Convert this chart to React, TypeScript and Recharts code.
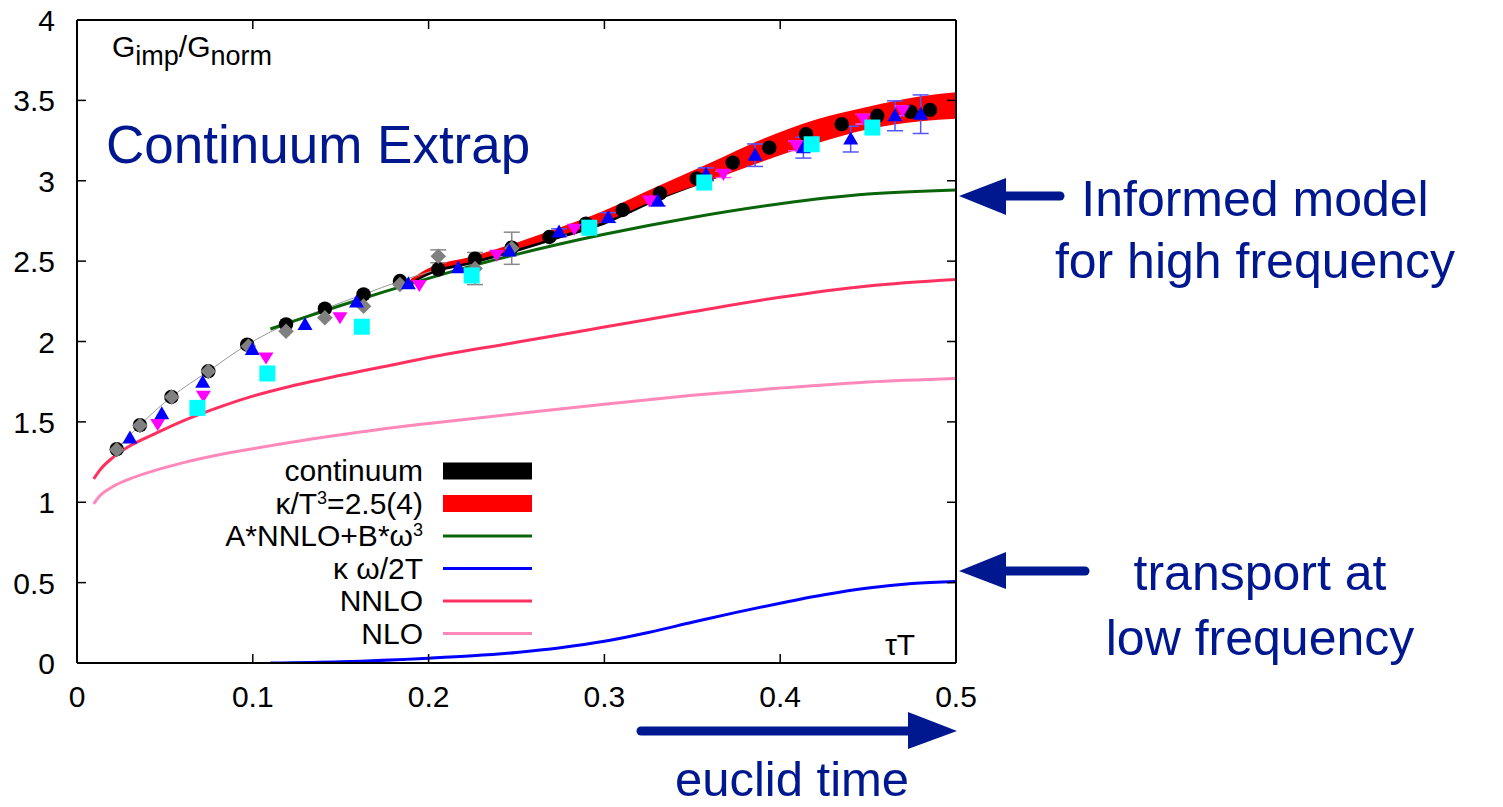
import React from 'react';
import { ComposedChart, XAxis, YAxis, Line, Area, Scatter, ErrorBar } from 'recharts';

const FONT = '"Liberation Sans", Arial, Helvetica, sans-serif';
const NAVY = '#00188f';

// ---- axis ticks ----
const xTicks = [0, 0.1, 0.2, 0.3, 0.4, 0.5];
const xTickLabels = ['0', '0.1', '0.2', '0.3', '0.4', '0.5'];
const yTicks = [0, 0.5, 1, 1.5, 2, 2.5, 3, 3.5, 4];
const yTickLabels = ['0', '0.5', '1', '1.5', '2', '2.5', '3', '3.5', '4'];

// ---- continuum data (black circles) ----
const contX = [0.0226, 0.0358, 0.0537, 0.0747, 0.0968, 0.1189, 0.141, 0.163, 0.1837, 0.2055, 0.2264, 0.2473, 0.2687, 0.2895, 0.3104, 0.3316, 0.3525, 0.373, 0.3938, 0.4147, 0.435, 0.4552, 0.4742, 0.4852];
const contY = [1.33, 1.48, 1.655, 1.815, 1.98, 2.106, 2.204, 2.293, 2.376, 2.449, 2.515, 2.584, 2.65, 2.733, 2.818, 2.922, 3.014, 3.113, 3.206, 3.29, 3.352, 3.404, 3.429, 3.441];

// ---- lattice data (gray diamonds) ----
const grayX = [0.0226, 0.0358, 0.0539, 0.0747, 0.0975, 0.1189, 0.141, 0.163, 0.1837, 0.2055, 0.2264, 0.2473];
const grayY = [1.327, 1.477, 1.655, 1.815, 1.97, 2.064, 2.148, 2.22, 2.355, 2.53, 2.454, 2.58];
const grayE = [0, 0, 0, 0, 0, 0, 0, 0, 0, 0.04, 0.1, 0.1];

// ---- lattice data (blue up-triangles) ----
const blueX = [0.0301, 0.0482, 0.0715, 0.0997, 0.1297, 0.159, 0.1885, 0.2169, 0.2459, 0.2742, 0.3022, 0.3303, 0.3578, 0.3857, 0.4132, 0.4401, 0.4653, 0.4799];
const blueY = [1.4, 1.551, 1.746, 1.95, 2.106, 2.245, 2.36, 2.459, 2.563, 2.681, 2.771, 2.874, 3.04, 3.159, 3.206, 3.259, 3.404, 3.414];
const blueE = [0, 0, 0, 0, 0, 0, 0, 0, 0, 0.02, 0.03, 0.03, 0.04, 0.07, 0.065, 0.08, 0.093, 0.12];

// ---- lattice data (magenta down-triangles) ----
const magX = [0.0459, 0.0719, 0.1075, 0.1496, 0.1947, 0.2387, 0.2829, 0.3256, 0.3677, 0.409, 0.4473, 0.4697];
const magY = [1.483, 1.659, 1.898, 2.147, 2.349, 2.536, 2.698, 2.874, 3.04, 3.217, 3.383, 3.435];
const magE = [0, 0, 0, 0, 0, 0, 0, 0, 0.02, 0.03, 0.03, 0.03];

// ---- lattice data (cyan squares) ----
const cyanX = [0.0685, 0.1083, 0.162, 0.2245, 0.2914, 0.3568, 0.4179, 0.4524];
const cyanY = [1.587, 1.801, 2.092, 2.411, 2.708, 2.989, 3.227, 3.331];

// ---- kappa band (red) and continuum band (black) ----
const bandX = [0.19, 0.2, 0.225, 0.25, 0.275, 0.3, 0.33, 0.36, 0.39, 0.42, 0.45, 0.48, 0.5];
const bandLo = [2.37, 2.43, 2.5, 2.575, 2.66, 2.745, 2.885, 3.0, 3.12, 3.23, 3.32, 3.37, 3.385];
const bandHi = [2.39, 2.455, 2.53, 2.615, 2.71, 2.815, 2.965, 3.11, 3.26, 3.38, 3.46, 3.525, 3.55];
const contBandLo = [2.355, 2.412, 2.482, 2.557, 2.642, 2.727, 2.875, 3.0, 3.13, 3.25, 3.34, 3.39, 3.4];
const contBandHi = [2.38, 2.44, 2.515, 2.595, 2.685, 2.78, 2.93, 3.06, 3.19, 3.3, 3.39, 3.44, 3.45];

// ---- model curves ----
const greenX = [0.11, 0.13, 0.15, 0.175, 0.2, 0.229, 0.25, 0.3, 0.35, 0.4, 0.45, 0.5];
const greenY = [2.078, 2.152, 2.224, 2.31, 2.393, 2.483, 2.542, 2.667, 2.772, 2.857, 2.917, 2.942];

const kwX = [0.11, 0.15, 0.2, 0.225, 0.25, 0.275, 0.3, 0.325, 0.35, 0.375, 0.4, 0.425, 0.45, 0.475, 0.5];
const kwY = [0.0, 0.008, 0.03, 0.045, 0.066, 0.095, 0.135, 0.19, 0.253, 0.315, 0.372, 0.424, 0.466, 0.494, 0.507];

const pertX = [0.0095, 0.013, 0.02, 0.03, 0.045, 0.06, 0.083, 0.1, 0.121, 0.15, 0.184, 0.2, 0.25, 0.3, 0.35, 0.4, 0.45, 0.5];
const nnloY = [1.145, 1.2, 1.275, 1.35, 1.43, 1.505, 1.6, 1.66, 1.72, 1.79, 1.865, 1.9, 1.995, 2.09, 2.185, 2.275, 2.345, 2.385];
const nloY = [0.99, 1.04, 1.095, 1.145, 1.2, 1.245, 1.3, 1.333, 1.372, 1.42, 1.47, 1.49, 1.55, 1.61, 1.665, 1.71, 1.748, 1.77];

// ---- build tables ----
const pts = (xs: number[], ys: number[], es?: number[]) =>
  xs.map((x, i) => ({ x, y: ys[i], e: es ? es[i] : 0 }));
const band = (xs: number[], lo: number[], hi: number[]) =>
  xs.map((x, i) => ({ x, band: [lo[i], hi[i]] }));

const contData = pts(contX, contY);
const thinData = pts(contX.slice(0, 10), contY.slice(0, 10));
const grayData = pts(grayX, grayY, grayE);
const blueData = pts(blueX, blueY, blueE);
const magData = pts(magX, magY, magE);
const cyanData = pts(cyanX, cyanY);
const redBand = band(bandX, bandLo, bandHi);
const blackBand = band(bandX, contBandLo, contBandHi);
const greenData = pts(greenX, greenY);
const kwData = pts(kwX, kwY);
const nnloData = pts(pertX, nnloY);
const nloData = pts(pertX, nloY);

// ---- marker shapes ----
const circleShape = (p: any) => <circle cx={p.cx} cy={p.cy} r={7.2} fill="#000" />;
const diamondShape = (p: any) => {
  const r = 7.8;
  return <polygon points={`${p.cx},${p.cy - r} ${p.cx + r},${p.cy} ${p.cx},${p.cy + r} ${p.cx - r},${p.cy}`} fill="#808080" />;
};
const triUpShape = (p: any) => (
  <polygon points={`${p.cx},${p.cy - 7.5} ${p.cx + 7.5},${p.cy + 5.5} ${p.cx - 7.5},${p.cy + 5.5}`} fill="#0000ff" />
);
const triDownShape = (p: any) => (
  <polygon points={`${p.cx},${p.cy + 6.5} ${p.cx + 7.5},${p.cy - 5.5} ${p.cx - 7.5},${p.cy - 5.5}`} fill="#ff00ff" />
);
const squareShape = (p: any) => <rect x={p.cx - 8} y={p.cy - 8} width={16} height={16} fill="#00ffff" />;

// ---- ticks (inward) ----
const LeftTick = (p: any) => {
  const i = yTicks.indexOf(p.payload.value);
  return (
    <g>
      <line x1={p.x + 22} x2={p.x + 31} y1={p.y} y2={p.y} stroke="#000" strokeWidth={1.5} />
      <text x={p.x} y={p.y + 11} textAnchor="end" fontSize={30} fontFamily={FONT} fill="#000">{yTickLabels[i]}</text>
    </g>
  );
};
const BottomTick = (p: any) => {
  const i = xTicks.indexOf(p.payload.value);
  return (
    <g>
      <line x1={p.x} x2={p.x} y1={p.y - 44} y2={p.y - 53} stroke="#000" strokeWidth={1.5} />
      <text x={p.x} y={p.y} textAnchor="middle" fontSize={30} fontFamily={FONT} fill="#000">{xTickLabels[i]}</text>
    </g>
  );
};
const TopTick = (p: any) => <line x1={p.x} x2={p.x} y1={p.y} y2={p.y + 9} stroke="#000" strokeWidth={1.5} />;
const RightTick = (p: any) => <line x1={p.x - 9} x2={p.x} y1={p.y} y2={p.y} stroke="#000" strokeWidth={1.5} />;

const axisLine = { stroke: '#000', strokeWidth: 2 };

const legendRows = [
  { kind: 'box', color: '#000000' },
  { kind: 'box', color: '#ff0000' },
  { kind: 'line', color: '#0a640a' },
  { kind: 'line', color: '#0000ff' },
  { kind: 'line', color: '#ff3060' },
  { kind: 'line', color: '#ff88bb' },
];

const legendText = (i: number) => {
  switch (i) {
    case 0: return <>continuum</>;
    case 1: return <>κ/T<tspan dy={-10} fontSize={18}>3</tspan><tspan dy={10}>=2.5(4)</tspan></>;
    case 2: return <>A*NNLO+B*ω<tspan dy={-10} fontSize={18}>3</tspan></>;
    case 3: return <>κ ω/2T</>;
    case 4: return <>NNLO</>;
    default: return <>NLO</>;
  }
};

const Overlay = () => (
  <svg width={1503} height={807} style={{ position: 'absolute', left: 0, top: 0, pointerEvents: 'none' }}>
    <text x={112} y={57} fontSize={30} fontFamily={FONT} fill="#000">
      G<tspan dy={8} fontSize={27}>imp</tspan><tspan dy={-8}>/G</tspan><tspan dy={8} fontSize={27}>norm</tspan>
    </text>
    <text x={106} y={163} fontSize={53} fontFamily={FONT} fill={NAVY}>Continuum Extrap</text>
    <text x={885} y={655} fontSize={30} fontFamily={FONT} fill="#000">τT</text>
    {legendRows.map((r, i) => {
      const cy = 471 + i * 32.5;
      return (
        <g key={i}>
          <text x={423} y={cy + 10} textAnchor="end" fontSize={30} fontFamily={FONT} fill="#000">{legendText(i)}</text>
          {r.kind === 'box'
            ? <rect x={443} y={cy - 8.5} width={89} height={17} fill={r.color} />
            : <line x1={443} x2={532} y1={cy} y2={cy} stroke={r.color} strokeWidth={3} />}
        </g>
      );
    })}
    {/* arrows */}
    <line x1={1000} x2={1060} y1={196} y2={196} stroke={NAVY} strokeWidth={9} strokeLinecap="round" />
    <polygon points="959,196 1006,178 1006,215" fill={NAVY} />
    <line x1={1000} x2={1085} y1={571} y2={571} stroke={NAVY} strokeWidth={9} strokeLinecap="round" />
    <polygon points="959,571 1006,552 1006,589" fill={NAVY} />
    <line x1={641} x2={912} y1={731} y2={731} stroke={NAVY} strokeWidth={9} strokeLinecap="round" />
    <polygon points="957,731 908,712 908,749" fill={NAVY} />
    <text x={1255} y={216} textAnchor="middle" fontSize={50} fontFamily={FONT} fill={NAVY}>Informed model</text>
    <text x={1255} y={278} textAnchor="middle" fontSize={50} fontFamily={FONT} fill={NAVY}>for high frequency</text>
    <text x={1260} y={590} textAnchor="middle" fontSize={50} fontFamily={FONT} fill={NAVY}>transport at</text>
    <text x={1260} y={655} textAnchor="middle" fontSize={50} fontFamily={FONT} fill={NAVY}>low frequency</text>
    <text x={792} y={796} textAnchor="middle" fontSize={49} fontFamily={FONT} fill={NAVY}>euclid time</text>
  </svg>
);

export default function App() {
  return (
    <div style={{ position: 'absolute', left: 0, top: 0, width: 1503, height: 807, background: '#fff' }}>
      <ComposedChart width={1503} height={807} margin={{ top: 19, right: 546, bottom: 84, left: 0 }}>
        <XAxis xAxisId="b" dataKey="x" type="number" domain={[0, 0.5]} ticks={xTicks} interval={0}
          orientation="bottom" height={60} tickSize={0} tickMargin={44} tickLine={false}
          axisLine={axisLine} tick={BottomTick} allowDataOverflow />
        <XAxis xAxisId="t" dataKey="x" type="number" domain={[0, 0.5]} ticks={xTicks} interval={0}
          orientation="top" height={1} tickSize={0} tickMargin={0} tickLine={false}
          axisLine={axisLine} tick={TopTick} allowDataOverflow />
        <YAxis yAxisId="l" dataKey="y" type="number" domain={[0, 4]} ticks={yTicks} interval={0}
          orientation="left" width={77} tickSize={0} tickMargin={22} tickLine={false}
          axisLine={axisLine} tick={LeftTick} allowDataOverflow />
        <YAxis yAxisId="r" dataKey="y" type="number" domain={[0, 4]} ticks={yTicks} interval={0}
          orientation="right" width={1} tickSize={0} tickMargin={0} tickLine={false}
          axisLine={axisLine} tick={RightTick} allowDataOverflow />

        <Line xAxisId="b" yAxisId="l" data={nloData} dataKey="y" type="monotone" stroke="#ff88bb" strokeWidth={3} dot={false} isAnimationActive={false} />
        <Line xAxisId="b" yAxisId="l" data={nnloData} dataKey="y" type="monotone" stroke="#ff3060" strokeWidth={3} dot={false} isAnimationActive={false} />
        <Line xAxisId="b" yAxisId="l" data={kwData} dataKey="y" type="monotone" stroke="#0000ff" strokeWidth={3} dot={false} isAnimationActive={false} />
        <Line xAxisId="b" yAxisId="l" data={thinData} dataKey="y" type="monotone" stroke="#999999" strokeWidth={1} dot={false} isAnimationActive={false} />
        <Area xAxisId="b" yAxisId="l" data={blackBand} dataKey="band" type="monotone" fill="#000" fillOpacity={1} stroke="none" isAnimationActive={false} />
        <Area xAxisId="b" yAxisId="l" data={redBand} dataKey="band" type="monotone" fill="#ff0000" fillOpacity={1} stroke="none" isAnimationActive={false} />
        <Line xAxisId="b" yAxisId="l" data={greenData} dataKey="y" type="monotone" stroke="#0a640a" strokeWidth={3} dot={false} isAnimationActive={false} />

        <Scatter xAxisId="b" yAxisId="l" data={contData} shape={circleShape} isAnimationActive={false} />
        <Scatter xAxisId="b" yAxisId="l" data={grayData} shape={diamondShape} isAnimationActive={false}>
          <ErrorBar dataKey="e" direction="y" width={8} stroke="#888888" strokeWidth={1.5} />
        </Scatter>
        <Scatter xAxisId="b" yAxisId="l" data={blueData} shape={triUpShape} isAnimationActive={false}>
          <ErrorBar dataKey="e" direction="y" width={8} stroke="#5555ff" strokeWidth={1.5} />
        </Scatter>
        <Scatter xAxisId="b" yAxisId="l" data={magData} shape={triDownShape} isAnimationActive={false}>
          <ErrorBar dataKey="e" direction="y" width={8} stroke="#ff55ff" strokeWidth={1.5} />
        </Scatter>
        <Scatter xAxisId="b" yAxisId="l" data={cyanData} shape={squareShape} isAnimationActive={false} />
      </ComposedChart>
      <Overlay />
    </div>
  );
}
